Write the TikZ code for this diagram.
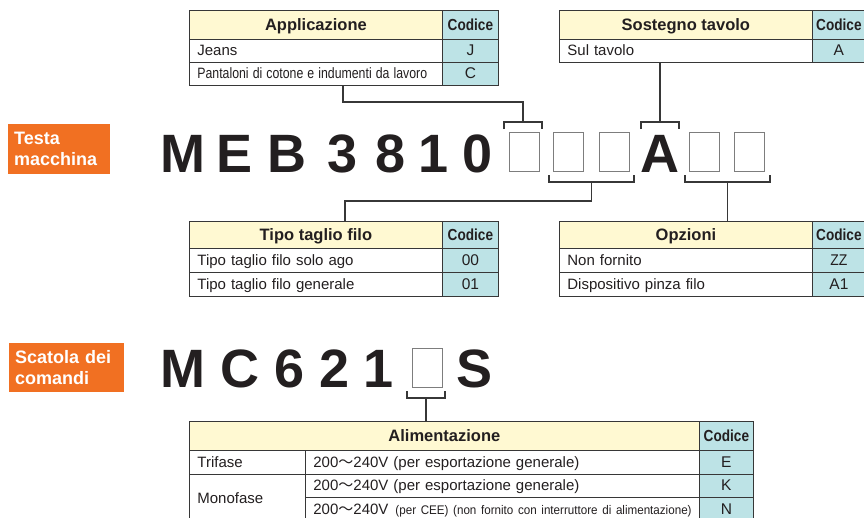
\documentclass[tikz,border=0pt]{standalone}
\usepackage{fontspec}
\setmainfont{Liberation Sans}
\newfontfamily\cjk{Noto Sans CJK JP}
\usepackage{graphicx}
\definecolor{headfill}{RGB}{255,249,210}
\definecolor{codefill}{RGB}{189,227,230}
\definecolor{tagfill}{RGB}{241,112,34}
\definecolor{tline}{RGB}{55,55,55}
\definecolor{slotline}{RGB}{125,125,125}
\definecolor{ink}{RGB}{35,31,32}
\newcommand{\cond}[2][0.85]{\scalebox{#1}[1]{#2}}

\begin{document}
\begin{tikzpicture}[x=1pt,y=-1pt]
\tikzset{
  cell/.style={draw=tline, line width=0.8pt, anchor=north west, inner ysep=0pt, text=ink, text height=12pt, text depth=2pt},
  head/.style={cell, fill=headfill, font=\fontsize{16.5}{16.5}\selectfont\bfseries, inner xsep=0pt, text height=12.5pt, text depth=1pt},
  code/.style={cell, fill=codefill, font=\fontsize{16}{16}\selectfont\bfseries, inner xsep=0pt, text height=12.5pt, text depth=1pt},
  row/.style={cell, fill=white, font=\fontsize{15}{15}\selectfont, inner xsep=8pt, align=left},
  coderow/.style={cell, fill=codefill, font=\fontsize{15.5}{15.5}\selectfont, inner xsep=0pt},
  big/.style={anchor=base, inner sep=0pt, text=ink, font=\fontsize{54}{54}\selectfont\bfseries},
  slot/.style={draw=slotline, line width=0.9pt, minimum width=30pt, minimum height=39pt, inner sep=0pt},
  tag/.style={fill=tagfill, text=white, anchor=north west, inner xsep=6pt, inner ysep=0pt, align=left, font=\fontsize{18}{21}\selectfont\bfseries},
  conn/.style={draw=tline, line width=1.1pt},
}
\useasboundingbox (0,0) rectangle (864,517);

\node[tag, text width=90pt, minimum height=50pt] (testa) at (8,124) {Testa\\macchina};
\node[tag, text width=103pt, minimum height=49pt] (scatola) at (9,343) {Scatola dei\\comandi};

\foreach \ch/\x in {M/183,E/235,B/287,3/343,8/391,1/434,0/478}
  \node[big] (h\ch) at (\x,172) {\ch};
\node[big] (hA) at (660,172) {A};
\foreach \i/\x in {1/524,2/568.5,3/614,4/704,5/749.5}
  \node[slot] (s\i) at (\x,151.5) {};
\foreach \ch/\x in {M/183,C/240,6/290,2/335,1/379,S/475}
  \node[big] (c\ch) at (\x,387) {\ch};
\node[slot] (s6) at (427,367.5) {};

\node[head, minimum width=253pt, minimum height=29pt] (apph) at (189,10) {Applicazione};
\node[code, minimum width=56pt, minimum height=29pt] (appc) at (442,10) {\cond{Codice}};
\node[row, text width=237pt, minimum height=23pt] (app1) at (189,39) {Jeans};
\node[coderow, minimum width=56pt, minimum height=23pt] (app1c) at (442,39) {J};
\node[row, text width=237pt, minimum height=23pt] (app2) at (189,62) {\cond[0.82]{Pantaloni di cotone e indumenti da lavoro}};
\node[coderow, minimum width=56pt, minimum height=23pt] (app2c) at (442,62) {C};

\node[head, minimum width=253pt, minimum height=29pt] (sosh) at (559,10) {Sostegno tavolo};
\node[code, minimum width=53pt, minimum height=29pt] (sosc) at (812,10) {\cond{Codice}};
\node[row, text width=237pt, minimum height=23pt] (sos1) at (559,39) {Sul tavolo};
\node[coderow, minimum width=53pt, minimum height=23pt] (sos1c) at (812,39) {A};

\node[head, minimum width=253pt, minimum height=27pt] (tiph) at (189,221) {Tipo taglio filo};
\node[code, minimum width=56pt, minimum height=27pt] (tipc) at (442,221) {\cond{Codice}};
\node[row, text width=237pt, minimum height=24pt] (tip1) at (189,248) {Tipo taglio filo solo ago};
\node[coderow, minimum width=56pt, minimum height=24pt] (tip1c) at (442,248) {00};
\node[row, text width=237pt, minimum height=24pt] (tip2) at (189,272) {Tipo taglio filo generale};
\node[coderow, minimum width=56pt, minimum height=24pt] (tip2c) at (442,272) {01};

\node[head, minimum width=253pt, minimum height=27pt] (oph) at (559,221) {Opzioni};
\node[code, minimum width=53pt, minimum height=27pt] (opc) at (812,221) {\cond{Codice}};
\node[row, text width=237pt, minimum height=24pt] (op1) at (559,248) {Non fornito};
\node[coderow, minimum width=53pt, minimum height=24pt] (op1c) at (812,248) {\cond[0.9]{ZZ}};
\node[row, text width=237pt, minimum height=24pt] (op2) at (559,272) {Dispositivo pinza filo};
\node[coderow, minimum width=53pt, minimum height=24pt] (op2c) at (812,272) {A1};

\node[head, minimum width=510pt, minimum height=29pt] (alh) at (189,421) {Alimentazione};
\node[code, minimum width=54pt, minimum height=29pt] (alc) at (699,421) {\cond{Codice}};
\node[row, text width=100pt, minimum height=24pt] (al1a) at (189,450) {Trifase};
\node[row, text width=378pt, minimum height=24pt] (al1b) at (305,450) {200{\cjk ～}240V (per esportazione generale)};
\node[coderow, minimum width=54pt, minimum height=24pt] (al1c) at (699,450) {E};
\node[row, text width=100pt, minimum height=48pt] (al2a) at (189,474) {Monofase};
\node[row, text width=378pt, minimum height=23pt] (al2b) at (305,474) {200{\cjk ～}240V (per esportazione generale)};
\node[coderow, minimum width=54pt, minimum height=23pt] (al2c) at (699,474) {K};
\node[row, text width=378pt, minimum height=25pt] (al3b) at (305,497) {200{\cjk ～}240V\hspace{7pt}{\fontsize{12.5}{12.5}\selectfont\cond[0.93]{(per CEE) (non fornito con interruttore di alimentazione)}}};
\node[coderow, minimum width=54pt, minimum height=25pt] (al3c) at (699,497) {N};

\coordinate (k1) at (523,122);
\coordinate (k2) at (660,122);
\coordinate (k3) at (591.5,182);
\coordinate (k4) at (727.5,182);
\coordinate (k5) at (426,398);
\coordinate (j1) at (343,102);
\coordinate (j3) at (345,201);

\draw[conn] ([shift={(-19pt,-7pt)}]k1) -- ([xshift=-19pt]k1) -- ([xshift=19pt]k1) -- ([shift={(19pt,-7pt)}]k1);
\draw[conn] ([shift={(-19pt,-7pt)}]k2) -- ([xshift=-19pt]k2) -- ([xshift=19pt]k2) -- ([shift={(19pt,-7pt)}]k2);
\draw[conn] ([shift={(-42.5pt,7pt)}]k3) -- ([xshift=-42.5pt]k3) -- ([xshift=42.5pt]k3) -- ([shift={(42.5pt,7pt)}]k3);
\draw[conn] ([shift={(-42.5pt,7pt)}]k4) -- ([xshift=-42.5pt]k4) -- ([xshift=42.5pt]k4) -- ([shift={(42.5pt,7pt)}]k4);
\draw[conn] ([shift={(-19pt,7pt)}]k5) -- ([xshift=-19pt]k5) -- ([xshift=19pt]k5) -- ([shift={(19pt,7pt)}]k5);

\draw[conn] (app2.south -| j1) -- (j1) -| (k1);
\draw[conn] (sos1.south -| k2) -- (k2);
\draw[conn] (k3) |- (j3) -- (tiph.north -| j3);
\draw[conn] (k4) -- (oph.north -| k4);
\draw[conn] (k5) -- (alh.north -| k5);
\end{tikzpicture}
\end{document}
